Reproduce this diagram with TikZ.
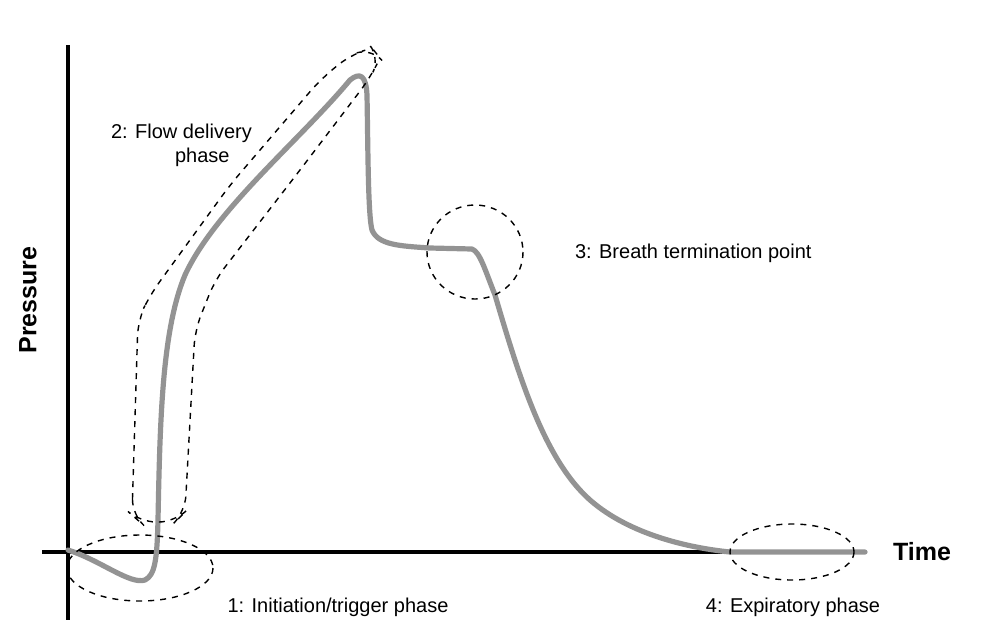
\documentclass[tikz,border=0pt]{standalone}
\usepackage{fontspec}
\setmainfont{Liberation Sans}
\begin{document}
\begin{tikzpicture}[x=0.5pt,y=-0.5pt,
  axis/.style={line width=2pt,black},
  curve/.style={line width=2.6pt,gray!85,line cap=round,line join=round},
  ring/.style={dashed,line width=0.7pt,black},
  lbl/.style={font=\fontsize{10}{12}\selectfont,align=left}]
\useasboundingbox (0,0) rectangle (1000,639);
\draw[axis] (68,45) -- (68,620);
\draw[axis] (42,552) -- (865,552);
\node[font=\bfseries\fontsize{12.5}{14}\selectfont] (time) at (922,552) {Time};
\node[font=\bfseries\fontsize{12.5}{14}\selectfont,rotate=90] (pres) at (28,300) {Pressure};
\draw[curve] (68,550) .. controls (100,560) and (130,585) .. (145,580)
  .. controls (155,575) and (157,560) .. (158,520)
  .. controls (160,420) and (162,330) .. (185,275)
  .. controls (215,210) and (300,140) .. (350,80)
  .. controls (360,72) and (366,75) .. (367,95)
  .. controls (368,150) and (368,215) .. (372,230)
  .. controls (378,245) and (400,246) .. (430,248)
  -- (472,249)
  .. controls (480,252) and (485,270) .. (495,295)
  .. controls (520,380) and (545,460) .. (590,500)
  .. controls (630,535) and (690,548) .. (730,552) -- (865,552);
\draw[ring] (140,568) ellipse [x radius=73, y radius=33];
\draw[ring] (475,252) ellipse [x radius=48, y radius=47];
\draw[ring] (792,552) ellipse [x radius=62, y radius=28];
\draw[ring,rounded corners=8] (132,515) -- (138,320) -- (150,295)
  -- (230,185) -- (320,80) -- (350,55) -- (372,48) -- (380,58) -- (370,78)
  -- (300,170) -- (215,280) -- (195,330) -- (185,512) -- (175,522) -- (140,522) -- cycle;
\node[lbl,anchor=west] (l2) at (104,145) {2: Flow delivery\\\hspace*{3.2em}phase};
\node[lbl,anchor=west] (l3) at (568,253) {3: Breath termination point};
\node[lbl] (l1) at (338,607) {1: Initiation/trigger phase};
\node[lbl] (l4) at (793,607) {4: Expiratory phase};
\end{tikzpicture}
\end{document}
